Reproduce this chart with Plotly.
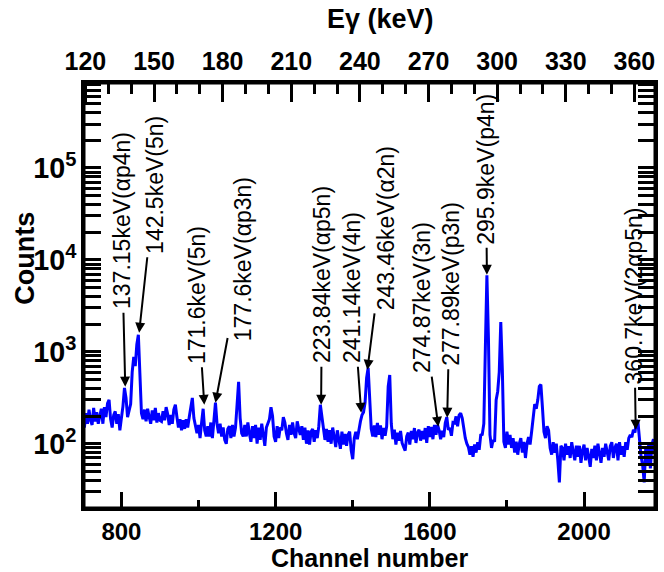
import numpy as np
import plotly.graph_objects as go

# channel grid (step 4) and counts
channels = list(range(704, 2193, 4))
counts = [
    150, 215, 165, 235, 180, 160, 245, 175, 220, 165,   # 704-740
    200, 240, 165, 250, 195, 275, 300, 185, 150, 205,   # 744-780
    225, 165, 210, 140, 190, 255, 405, 315, 195, 240,   # 784-820
    270, 600, 880, 700, 1200, 1530, 480, 215, 185, 235, # 824-860
    175, 240, 195, 165, 230, 180, 245, 170, 215, 180,   # 864-900
    175, 225, 180, 250, 210, 160, 205, 165, 235, 265,   # 904-940
    195, 150, 185, 140, 180, 145, 185, 150, 195, 255,   # 944-980
    315, 190, 150, 130, 160, 115, 170, 240, 140, 120,   # 984-1020
    155, 120, 170, 115, 180, 280, 165, 130, 165, 120,   # 1024-1060
    150, 110, 100, 145, 155, 115, 160, 120, 150, 250,   # 1064-1100
    470, 190, 130, 120, 160, 120, 170, 130, 105, 155,   # 1104-1140
    115, 160, 100, 150, 110, 165, 120, 95, 150, 170,    # 1144-1180
    185, 250, 200, 120, 105, 155, 115, 150, 140, 195,   # 1184-1220
    170, 130, 110, 160, 125, 170, 130, 115, 175, 145,   # 1224-1260
    125, 155, 110, 150, 100, 140, 98, 135, 145, 105,    # 1264-1300
    140, 115, 155, 265, 200, 140, 110, 145, 105, 140,   # 1304-1340
    100, 150, 115, 92, 140, 105, 88, 135, 98, 128,      # 1344-1380
    95, 125, 135, 85, 68, 115, 135, 112, 150, 175,      # 1384-1420
    205, 220, 280, 520, 670, 250, 145, 120, 158, 118,   # 1424-1460
    168, 125, 158, 112, 148, 122, 155, 420, 560, 165,   # 1464-1500
    112, 142, 98, 132, 108, 138, 102, 92, 84, 120,      # 1504-1540
    132, 98, 138, 112, 148, 102, 132, 142, 108, 138,    # 1544-1580
    112, 148, 102, 155, 118, 152, 112, 160, 125, 160,   # 1584-1620
    140, 112, 138, 118, 168, 195, 142, 148, 122, 170,   # 1624-1660
    168, 198, 155, 205, 215, 190, 142, 115, 100, 92,    # 1664-1700
    76, 94, 72, 98, 80, 104, 86, 124, 126, 165,         # 1704-1740
    1100, 6800, 1400, 125, 90, 110, 105, 300, 370, 600, # 1744-1780
    2100, 650, 105, 90, 135, 98, 125, 90, 115, 80,      # 1784-1820
    105, 76, 100, 115, 80, 105, 70, 100, 118, 98,       # 1824-1860
    135, 200, 270, 240, 300, 420, 440, 250, 135, 115,   # 1864-1900
    155, 140, 90, 76, 104, 80, 100, 66, 38, 95,         # 1904-1940
    90, 66, 100, 76, 94, 70, 104, 82, 66, 95,           # 1944-1980
    72, 95, 62, 84, 98, 66, 90, 72, 56, 88,             # 1984-2020
    70, 95, 66, 100, 76, 62, 90, 72, 100, 76,           # 2024-2060
    66, 94, 104, 70, 90, 100, 66, 104, 76, 94,          # 2064-2100
    72, 104, 86, 115, 125, 118, 142, 132, 180, 168,     # 2104-2140
    108, 72, 58, 38, 92, 62, 104, 54, 98, 112,          # 2144-2180
    78, 104, 90,                                        # 2184-2192
]

# labelled lines: text, channel of arrow head, counts at arrow head, text offset (px)
ann_texts = ["137.15keV(αp4n)", "142.5keV(5n)", "171.6keV(5n)", "177.6keV(αp3n)",
             "223.84keV(αp5n)", "241.14keV(4n)", "243.46keV(α2n)", "274.87keV(3n)",
             "277.89keV(p3n)", "295.9keV(p4n)", "360.7keV(2αp5n)"]
ann_ch = [810, 846, 1015, 1044, 1318, 1422, 1438, 1622, 1645, 1748, 2134]
ann_cnt = [417, 1610, 265, 279, 265, 217, 636, 153, 192, 6870, 142]
ann_ax = [-4, 16, -7, 27, 1, -9, 18, -17, 3, -1, -2]
ann_ay = [-166, -148, -110, -144, -130, -125, -142, -129, -134, -106, -134]

x_range = [703, 2184]
e_range = [119.4, 369.0]
y_range = [np.log10(20), 5.923]

FONT = "Liberation Sans, Arial, sans-serif"

fig = go.Figure()
fig.add_trace(go.Scatter(x=channels, y=counts, mode="lines",
                         line=dict(color="#0000ff", width=3),
                         showlegend=False, hoverinfo="skip", cliponaxis=True))
fig.add_trace(go.Scatter(x=[], y=[], xaxis="x2", showlegend=False, hoverinfo="skip"))

tickfont = dict(family=FONT, size=24, color="black", weight="bold")

fig.update_layout(
    width=664, height=572,
    margin=dict(l=84, r=6, t=83, b=64),
    paper_bgcolor="white", plot_bgcolor="white",
    xaxis=dict(range=x_range, tickmode="linear", tick0=0, dtick=400,
               ticks="inside", ticklen=16, tickwidth=2.5, tickcolor="black",
               minor=dict(dtick=200, tick0=0, ticks="inside", ticklen=8,
                          tickwidth=2.5, tickcolor="black", showgrid=False),
               showline=True, linewidth=3, linecolor="black", mirror=False,
               showgrid=False, zeroline=False, tickfont=tickfont),
    xaxis2=dict(range=e_range, overlaying="x", side="top", anchor="y",
                tickmode="linear", tick0=0, dtick=30,
                ticks="inside", ticklen=19, tickwidth=2.5, tickcolor="black",
                minor=dict(dtick=10, tick0=0, ticks="inside", ticklen=11,
                           tickwidth=2.5, tickcolor="black", showgrid=False),
                showline=True, linewidth=3, linecolor="black",
                showgrid=False, zeroline=False,
                tickfont=dict(family=FONT, size=25, color="black", weight="bold")),
    yaxis=dict(type="log", range=y_range, tickmode="linear", tick0=0, dtick=1,
               exponentformat="power",
               ticks="inside", ticklen=17, tickwidth=2.5, tickcolor="black",
               minor=dict(dtick="D1", ticks="inside", ticklen=10, tickwidth=2.5,
                          tickcolor="black", showgrid=False),
               showline=True, linewidth=3, linecolor="black", mirror="allticks",
               showgrid=False, zeroline=False,
               tickfont=dict(family=FONT, size=23, color="black", weight="bold")),
    shapes=[dict(type="rect", xref="paper", yref="paper", x0=0, x1=1, y0=0, y1=1,
                 line=dict(color="black", width=3), fillcolor="rgba(0,0,0,0)",
                 layer="above")],
)

anns = []
for t, c, v, ax_, ay_ in zip(ann_texts, ann_ch, ann_cnt, ann_ax, ann_ay):
    anns.append(dict(x=c, y=np.log10(v), xref="x", yref="y", text=t,
                     textangle=-90, showarrow=True, arrowhead=2, arrowsize=1,
                     arrowwidth=2, arrowcolor="black", ax=ax_, ay=ay_,
                     standoff=0, startstandoff=2,
                     font=dict(family=FONT, size=23, color="black")))

anns.append(dict(x=0.5, y=-0.1165, xref="paper", yref="paper", showarrow=False,
                 text="Channel number", xanchor="center", yanchor="middle",
                 font=dict(family=FONT, size=25, color="black", weight="bold")))
anns.append(dict(x=-0.104, y=0.588, xref="paper", yref="paper", showarrow=False,
                 text="Counts", textangle=-90, xanchor="center", yanchor="middle",
                 font=dict(family=FONT, size=27, color="black", weight="bold")))
anns.append(dict(x=0.52, y=1.1506, xref="paper", yref="paper", showarrow=False,
                 text="Eγ (keV)", xanchor="center", yanchor="middle",
                 font=dict(family=FONT, size=27, color="black", weight="bold")))
fig.update_layout(annotations=anns)

fig.write_html("out.html")
